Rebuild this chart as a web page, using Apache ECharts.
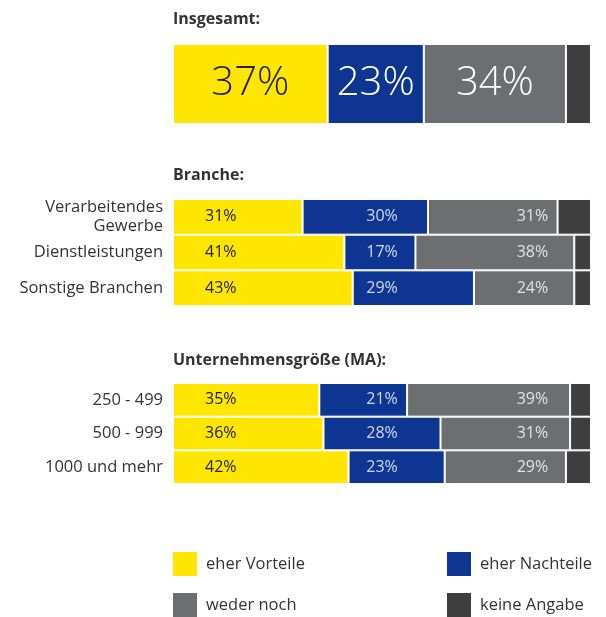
<!DOCTYPE html>
<html>
<head>
<meta charset="utf-8">
<script src="https://cdn.jsdelivr.net/npm/echarts@6/dist/echarts.min.js"></script>
<style>
  html, body { margin: 0; padding: 0; background: #fff; }
  #chart { width: 606px; height: 617px; }
</style>
</head>
<body>
<div id="chart"></div>
<script>
// answer categories (legend)
const answerNames = ['eher Vorteile', 'eher Nachteile', 'weder noch', 'keine Angabe'];
const answerColors = ['#FFE600', '#0E3591', '#6D6E71', '#3E3E3E'];

// Insgesamt
const totalCategories = ['Insgesamt'];
const totalVorteile = [37];
const totalNachteile = [23];
const totalWeder = [34];
const totalKeine = [6];

// Branche
const brancheCategories = ['Verarbeitendes\nGewerbe', 'Dienstleistungen', 'Sonstige Branchen'];
const brancheVorteile = [31, 41, 43];
const brancheNachteile = [30, 17, 29];
const brancheWeder = [31, 38, 24];
const brancheKeine = [8, 4, 4];

// Unternehmensgröße
const sizeCategories = ['250 - 499', '500 - 999', '1000 und mehr'];
const sizeVorteile = [35, 36, 42];
const sizeNachteile = [21, 28, 23];
const sizeWeder = [39, 31, 29];
const sizeKeine = [5, 5, 6];

const sectionTitles = ['Insgesamt:', 'Branche:', 'Unternehmensgröße (MA):'];

const FONT = '"Open Sans", sans-serif';
const TEXT = '#333333';

const chart = echarts.init(document.getElementById('chart'));

// build the 4 stacked bar series for one grid
function barSeries(gridIdx, values, big) {
    return values.map((vals, i) => ({
        name: answerNames[i],
        type: 'bar',
        stack: 'g' + gridIdx,
        xAxisIndex: gridIdx,
        yAxisIndex: gridIdx,
        barCategoryGap: '0%',
        data: vals,
        itemStyle: { color: answerColors[i], borderColor: '#fff', borderWidth: 1 },
        label: big ? {
            show: i < 3,
            position: 'inside',
            fontFamily: FONT,
            fontSize: 40,
            fontWeight: 300,
            color: i === 0 ? '#222' : '#fff',
            formatter: '{c}%'
        } : {
            show: i === 0,
            position: 'insideLeft',
            distance: 32,
            fontFamily: FONT,
            fontSize: 16,
            color: '#222',
            formatter: '{c}%'
        },
        emphasis: { disabled: true }
    }));
}

// labels for blue / grey segments sit at fixed columns
function labelSeries(gridIdx, vals, xPos) {
    return {
        type: 'scatter',
        xAxisIndex: gridIdx,
        yAxisIndex: gridIdx,
        symbolSize: 0,
        silent: true,
        data: vals.map((v, k) => [xPos, k, v]),
        label: {
            show: true,
            position: 'inside',
            fontFamily: FONT,
            fontSize: 16,
            color: '#fff',
            formatter: p => p.value[2] + '%'
        }
    };
}

const grids = [
    { left: 173, right: 15, top: 44, height: 80 },
    { left: 173, right: 15, top: 199, height: 107 },
    { left: 173, right: 15, top: 383, height: 101 }
];
const cats = [totalCategories, brancheCategories, sizeCategories];

const option = {
    animation: false,
    backgroundColor: '#fff',
    title: [11, 167, 352].map((t, i) => ({
        text: sectionTitles[i],
        left: 173,
        top: t,
        padding: 0,
        textStyle: { fontFamily: FONT, fontSize: 16, fontWeight: 'bold', color: TEXT }
    })),
    grid: grids,
    xAxis: grids.map((g, i) => ({ type: 'value', gridIndex: i, min: 0, max: 100, show: false })),
    yAxis: grids.map((g, i) => ({
        type: 'category',
        gridIndex: i,
        inverse: true,
        data: cats[i],
        axisLine: { show: false },
        axisTick: { show: false },
        splitLine: { show: false },
        axisLabel: {
            show: i > 0,
            margin: 10,
            fontFamily: FONT,
            fontSize: 16.5,
            lineHeight: 19,
            color: TEXT,
            align: 'right'
        }
    })),
    legend: [
        { data: [answerNames[0], answerNames[2]], left: 173 },
        { data: [answerNames[1], answerNames[3]], left: 447 }
    ].map(l => Object.assign(l, {
        top: 552,
        orient: 'vertical',
        padding: 0,
        itemGap: 17,
        itemWidth: 24,
        itemHeight: 24,
        icon: 'rect',
        selectedMode: false,
        itemStyle: { borderWidth: 0 },
        textStyle: { fontFamily: FONT, fontSize: 16.5, color: TEXT, padding: [0, 0, 0, 4] }
    })),
    series: [
        ...barSeries(0, [totalVorteile, totalNachteile, totalWeder, totalKeine], true),
        ...barSeries(1, [brancheVorteile, brancheNachteile, brancheWeder, brancheKeine], false),
        ...barSeries(2, [sizeVorteile, sizeNachteile, sizeWeder, sizeKeine], false),
        labelSeries(1, brancheNachteile, 50),
        labelSeries(1, brancheWeder, 86),
        labelSeries(2, sizeNachteile, 50),
        labelSeries(2, sizeWeder, 86)
    ]
};

chart.setOption(option);
</script>
</body>
</html>
